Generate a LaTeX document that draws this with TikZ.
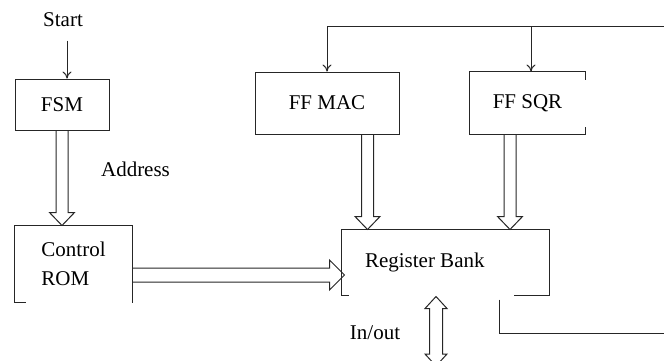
\documentclass[tikz,border=0pt]{standalone}
\usepackage{fontspec}
\setmainfont{Liberation Serif}
\usetikzlibrary{calc,arrows.meta}

% hollow block arrows, start point -> tip
\newcommand{\downblock}[2]{%
  \draw[block arrow] let \p1=(#1), \p2=(#2) in
    ({\x1-6pt},\y1) -- ({\x1-6pt},{\y2+13pt}) -- ({\x1-12.5pt},{\y2+13pt}) -- (\x1,\y2)
    -- ({\x1+12.5pt},{\y2+13pt}) -- ({\x1+6pt},{\y2+13pt}) -- ({\x1+6pt},\y1);}
\newcommand{\rightblock}[2]{%
  \draw[block arrow] let \p1=(#1), \p2=(#2) in
    (\x1,{\y1+7pt}) -- ({\x2-15pt},{\y1+7pt}) -- ({\x2-15pt},{\y1+15pt}) -- (\x2,\y1)
    -- ({\x2-15pt},{\y1-15pt}) -- ({\x2-15pt},{\y1-7pt}) -- (\x1,{\y1-7pt});}
\newcommand{\updownblock}[2]{%
  \draw[block arrow] let \p1=(#1), \p2=(#2) in
    (\x1,\y1) -- ({\x1+11pt},{\y1-12pt}) -- ({\x1+6.5pt},{\y1-12pt}) -- ({\x1+6.5pt},{\y2+12pt})
    -- ({\x1+11pt},{\y2+12pt}) -- (\x1,\y2) -- ({\x1-11pt},{\y2+12pt}) -- ({\x1-6.5pt},{\y2+12pt})
    -- ({\x1-6.5pt},{\y1-12pt}) -- ({\x1-11pt},{\y1-12pt}) -- cycle;}

\begin{document}
\begin{tikzpicture}[x=1pt,y=-1pt,line width=1pt,draw=black!85,
		font=\fontsize{21}{29}\selectfont,
		box/.style={rectangle,draw,inner sep=0pt},
		open box/.style={rectangle,inner sep=0pt},
		label text/.style={inner sep=0pt},
		block arrow/.style={line width=1pt,line join=miter},
		thin arrow/.style={-{To[length=7pt,width=9pt]}}]
		
		\useasboundingbox (0,0) rectangle (664,360);
		\clip (0,0) rectangle (664,360);
		
		\node[label text] (start) at (63,20) {Start};
		\node[box,minimum width=94pt,minimum height=51pt] (fsm) at (62,104.5) {FSM};
		\node[label text] (addr) at (135.5,169) {Address};
		\node[open box,minimum width=117pt,minimum height=76pt,align=left] (rom) at (73.5,264) {Control\\ROM};
		\node[box,minimum width=144pt,minimum height=62pt] (mac) at (327,103) {FF MAC\hspace{10pt}};
		\node[open box,minimum width=115pt,minimum height=62pt] (sqr) at (527.5,103) {FF SQR};
		\node[open box,minimum width=207pt,minimum height=65pt] (rb) at (445.5,262.5) {};
		\node[label text,anchor=west] (rbtext) at ([xshift=23pt]rb.west) {Register Bank};
		\node[label text] (io) at (375,333) {In/out};
		
		\coordinate (fbin) at (664,26);
		\coordinate (fbout) at (664,333);
		\coordinate (iobot) at (436,366);
		
		% open sided boxes
		\draw ([xshift=11pt]rom.south west) -- (rom.south west) -- (rom.north west)
		-- (rom.north east) -- (rom.south east);
		\draw ([yshift=-8pt]sqr.north east) -- (sqr.north east) -- (sqr.north west)
		-- (sqr.south west) -- (sqr.south east) -- ([yshift=8pt]sqr.south east);
		\draw ([xshift=7pt]rb.south west) -- (rb.south west) -- (rb.north west)
		-- (rb.north east) -- (rb.south east) -- ([xshift=-36pt]rb.south east);
		
		\draw[thin arrow] ([xshift=5pt]fsm.north |- start.south) ++(0,-13pt) -- ([xshift=5pt]fsm.north);
		\draw[thin arrow] (fbin) -| (mac.north);
		\draw[thin arrow] ([xshift=3.5pt]sqr.north |- fbin) -- ([xshift=3.5pt]sqr.north);
		\draw ([xshift=53.5pt,yshift=-4pt]rb.south) |- (fbout);
		
		\downblock{fsm.south}{rom.north}
		\downblock{[xshift=40.5pt]mac.south}{rb.north}
		\downblock{[xshift=-17.5pt]sqr.south}{rb.north}
		\rightblock{[yshift=-11pt]rom.east}{[xshift=3pt]rb.west}
		\updownblock{[xshift=-9.5pt,yshift=-1pt]rb.south}{iobot}
\end{tikzpicture}
\end{document}
